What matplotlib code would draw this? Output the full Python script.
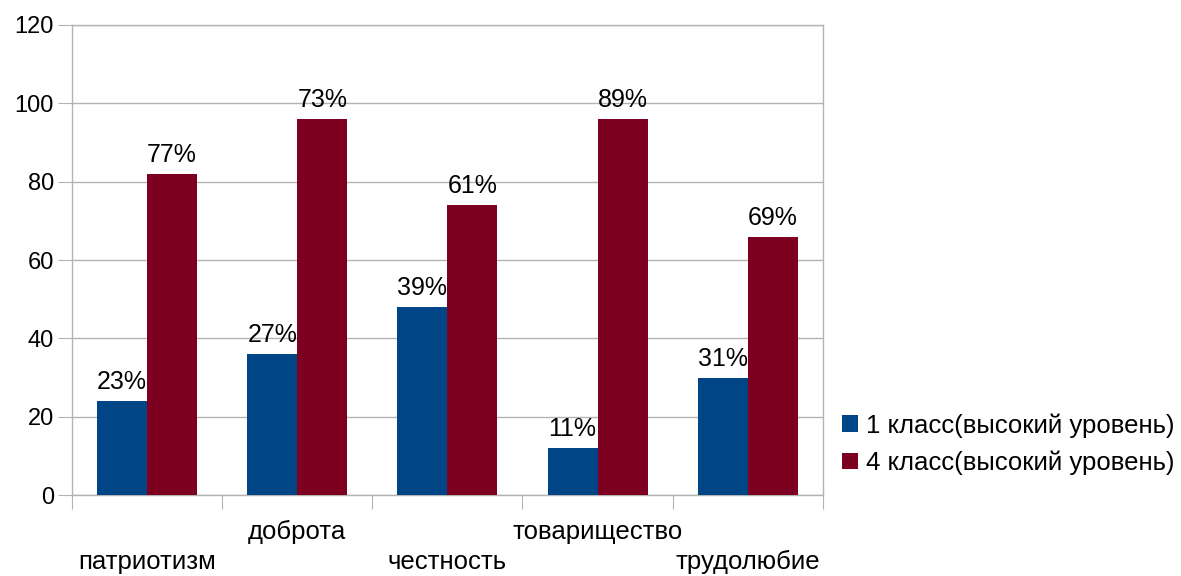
import numpy as np
import matplotlib.pyplot as plt
from matplotlib.patches import Patch

plt.rcParams['font.family'] = ['Liberation Sans', 'DejaVu Sans']

categories = ["патриотизм", "доброта", "честность", "товарищество", "трудолюбие"]
series_names = ["1 класс(высокий уровень)", "4 класс(высокий уровень)"]
grade1 = [24, 36, 48, 12, 30]
grade4 = [82, 96, 74, 96, 66]
grade1_labels = ["23%", "27%", "39%", "11%", "31%"]
grade4_labels = ["77%", "73%", "61%", "89%", "69%"]

BLUE = "#004586"
RED = "#7e0021"
GRID = "#b3b3b3"

fig = plt.figure(figsize=(11.81, 5.76), dpi=100)
ax = fig.add_axes([0.061, 0.1406, 0.6357, 0.816])

x = np.arange(len(categories))
w = 1 / 3
b1 = ax.bar(x - w / 2, grade1, w, color=BLUE, zorder=3)
b2 = ax.bar(x + w / 2, grade4, w, color=RED, zorder=3)

for bars, labels in ((b1, grade1_labels), (b2, grade4_labels)):
    for bar, lbl in zip(bars, labels):
        ax.annotate(lbl, (bar.get_x() + bar.get_width() / 2, bar.get_height()),
                    xytext=(0, 5), textcoords="offset points",
                    ha="center", va="bottom", fontsize=18)

ax.set_xlim(-0.5, len(categories) - 0.5)
ax.set_ylim(0, 120)
ax.set_yticks(range(0, 121, 20))
ax.tick_params(axis="y", labelsize=17, length=10, color=GRID, pad=3)
ax.yaxis.grid(True, color=GRID, linewidth=1, zorder=0)

# category ticks between groups, labels staggered
ax.set_xticks(np.arange(-0.5, len(categories)), minor=False)
ax.set_xticklabels([])
ax.tick_params(axis="x", which="major", length=10, color=GRID)
ax.set_xticks(x, minor=True)
ax.set_xticklabels([("\n" + c) if i % 2 == 0 else c for i, c in enumerate(categories)],
                   minor=True, fontsize=18.5, linespacing=1.3)
ax.tick_params(axis="x", which="minor", length=0, pad=18)

for s in ax.spines.values():
    s.set_color(GRID)
    s.set_linewidth(1)

handles = [Patch(facecolor=BLUE), Patch(facecolor=RED)]
fig.legend(handles, series_names, loc="center left", bbox_to_anchor=(0.698, 0.229),
           frameon=False, fontsize=18.5, handlelength=0.62, handleheight=0.62,
           handletextpad=0.3, labelspacing=0.5, borderpad=0.2)

fig.savefig("out.png", dpi=100)
